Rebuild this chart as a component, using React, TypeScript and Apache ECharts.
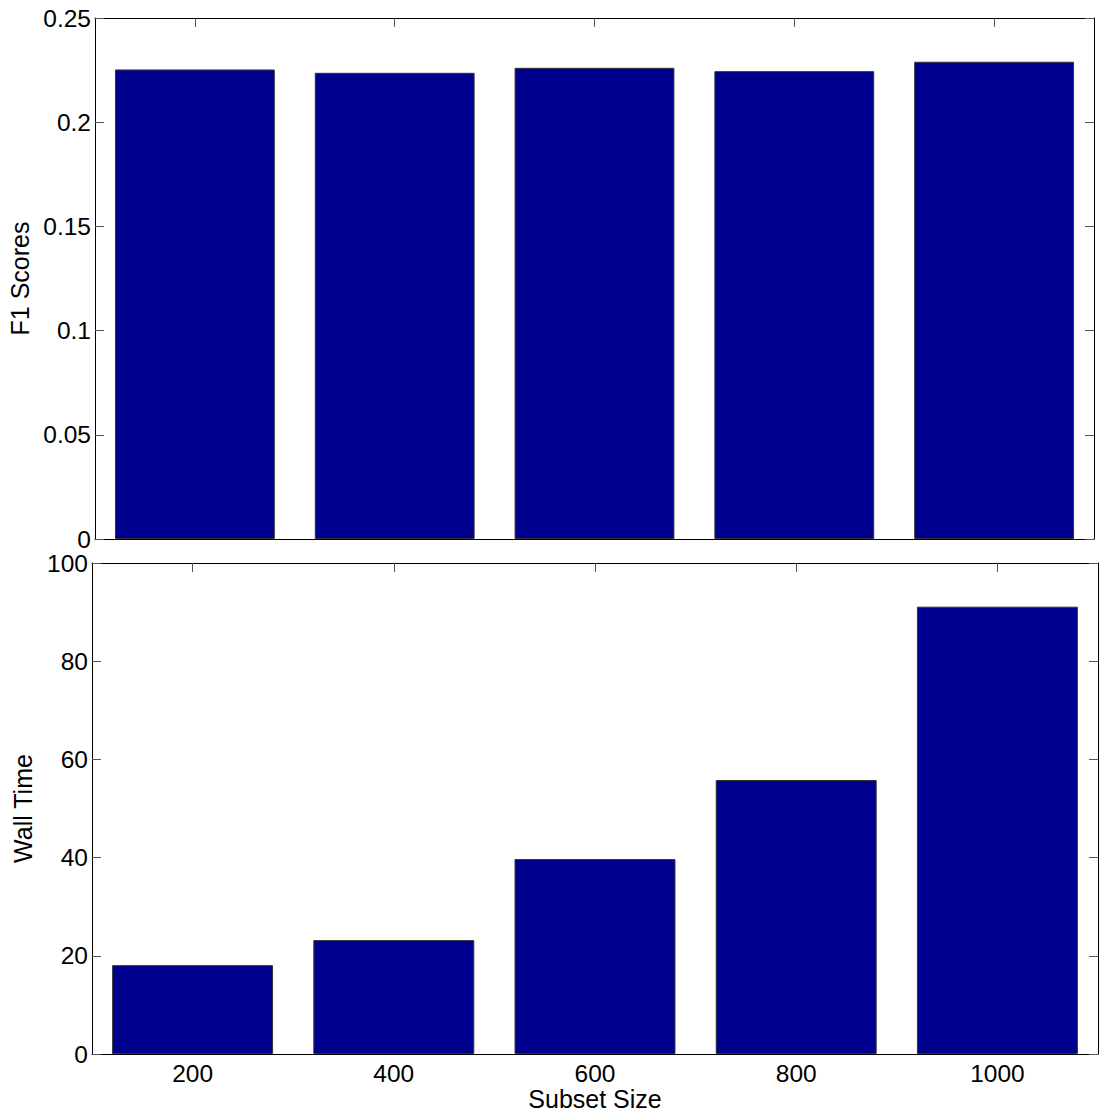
import React, { useEffect, useRef } from "react";
import * as echarts from "echarts";

// Subset sizes on the shared x axis
const subsetSizes = ["200", "400", "600", "800", "1000"];
// F1 score for each subset size (upper panel)
const f1Scores = [0.2253, 0.2237, 0.2261, 0.2245, 0.229];
// Wall time for each subset size (lower panel)
const wallTimes = [18.1, 23.2, 39.7, 55.8, 91.1];

const FONT = '"Liberation Sans", Arial, Helvetica, sans-serif';
const BAR_COLOR = "#00008f";
const TICK_COLOR = "#555";
const LABEL_SIZE = 24.5;
const NAME_SIZE = 25;

function frameAxisX(gridIndex: number, position: "top" | "bottom", showLabels: boolean, name?: string, nameGap?: number) {
  return {
    type: "category",
    gridIndex,
    position,
    data: subsetSizes,
    name: name ?? "",
    nameLocation: "middle",
    nameGap: nameGap ?? 0,
    nameTextStyle: { color: "#000", fontSize: NAME_SIZE, fontFamily: FONT },
    axisLine: { show: true, onZero: false, lineStyle: { color: "#000", width: 1 } },
    axisTick: { show: true, inside: true, alignWithLabel: true, length: 9, lineStyle: { color: TICK_COLOR } },
    axisLabel: { show: showLabels, color: "#000", fontSize: LABEL_SIZE, fontFamily: FONT, margin: 7 },
    splitLine: { show: false },
  };
}

function frameAxisY(gridIndex: number, position: "left" | "right", min: number, max: number, interval: number, showLabels: boolean, name?: string, nameGap?: number) {
  return {
    type: "value",
    gridIndex,
    position,
    min,
    max,
    interval,
    name: name ?? "",
    nameLocation: "middle",
    nameGap: nameGap ?? 0,
    nameTextStyle: { color: "#000", fontSize: NAME_SIZE, fontFamily: FONT },
    axisLine: { show: true, lineStyle: { color: "#000", width: 1 } },
    axisTick: { show: true, inside: true, length: 9, lineStyle: { color: TICK_COLOR } },
    axisLabel: { show: showLabels, color: "#000", fontSize: LABEL_SIZE, fontFamily: FONT, margin: 4 },
    splitLine: { show: false },
  };
}

export default function App() {
  const ref = useRef<HTMLDivElement>(null);

  useEffect(() => {
    if (!ref.current) return;
    const chart = echarts.init(ref.current, undefined, { renderer: "svg" });
    const barStyle = { color: BAR_COLOR, borderColor: "#333", borderWidth: 1 };

    chart.setOption({
      animation: false,
      backgroundColor: "#fff",
      textStyle: { fontFamily: FONT },
      grid: [
        { left: 95, top: 18, width: 999, height: 521, outerBoundsMode: "none" },
        { left: 92, top: 563, width: 1006, height: 491, outerBoundsMode: "none" },
      ],
      xAxis: [
        frameAxisX(0, "bottom", false),
        frameAxisX(0, "top", false),
        frameAxisX(1, "bottom", true, "Subset Size", 32),
        frameAxisX(1, "top", false),
      ],
      yAxis: [
        frameAxisY(0, "left", 0, 0.25, 0.05, true, "F1 Scores", 60),
        frameAxisY(0, "right", 0, 0.25, 0.05, false),
        frameAxisY(1, "left", 0, 100, 20, true, "Wall Time", 57),
        frameAxisY(1, "right", 0, 100, 20, false),
      ],
      series: [
        {
          type: "bar",
          xAxisIndex: 0,
          yAxisIndex: 0,
          data: f1Scores,
          barCategoryGap: "20%",
          itemStyle: barStyle,
          z: 1,
        },
        {
          type: "bar",
          xAxisIndex: 2,
          yAxisIndex: 2,
          data: wallTimes,
          barCategoryGap: "20%",
          itemStyle: barStyle,
          z: 1,
        },
      ],
    });
    return () => chart.dispose();
  }, []);

  return (
    <div
      ref={ref}
      style={{ position: "absolute", left: 0, top: 0, width: 1113, height: 1113 }}
    />
  );
}
